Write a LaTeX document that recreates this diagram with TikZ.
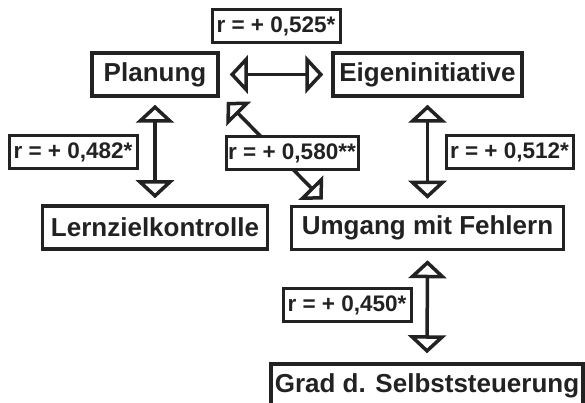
\documentclass[tikz,border=0pt]{standalone}
\usepackage{fontspec}
\setmainfont{Liberation Sans}
\usetikzlibrary{arrows.meta}
\definecolor{ink}{HTML}{222222}

\begin{document}
\begin{tikzpicture}[x=1pt, y=-1pt, >={Triangle[open, length=18pt, width=38pt]},
    var/.style={draw=ink, text=ink, line width=3.5pt, fill=white, inner sep=0pt,
      minimum height=43pt, font=\fontsize{26}{30}\selectfont\bfseries},
    coef/.style={draw=ink, text=ink, line width=3pt, fill=white, inner sep=0pt,
      minimum height=33pt, font=\fontsize{22.5}{26}\selectfont\bfseries},
    corr/.style={<->, draw=ink, line width=3.5pt}]

  \useasboundingbox (0,0) rectangle (585,403);

  %%%%%%%%%%%%%%%%%%%%%%%%%%%%%%%%%%%%%%%%%%%%%%%%%
  % Variables
  \node[var, minimum width=126pt] (plan)   at (155,74.5)  {Planung};
  \node[var, minimum width=189pt] (eigen)  at (427.5,74.5) {Eigeninitiative};
  \node[var, minimum width=225pt] (lern)   at (155,227.5) {Lernzielkontrolle};
  \node[var, minimum width=272pt] (umgang) at (427.5,228) {Umgang mit Fehlern};
  \node[var, minimum width=312pt] (grad)   at (427,385.5) {Grad d. Selbststeuerung};

  %%%%%%%%%%%%%%%%%%%%%%%%%%%%%%%%%%%%%%%%%%%%%%%%%
  % Correlations
  \draw[corr] ([xshift=10pt]plan.east) -- ([xshift=-8pt]eigen.west);
  \draw[corr] ([yshift=-7pt]plan.south) -- ([yshift=6pt]lern.north);
  \draw[corr] ([yshift=-7pt]eigen.south) -- ([yshift=6pt]umgang.north);
  \draw[corr] ([yshift=-9pt]umgang.south) -- ([yshift=9pt]grad.north);
  \draw[corr, >={Triangle[open, length=17pt, width=34pt]}]
      ([shift={(7pt,-4pt)}]plan.south east) -- ([shift={(33pt,5pt)}]umgang.north west);

  % Coefficients
  \node[coef, minimum width=128pt] (r525) at (276,26.5)  {r = + 0,525*};
  \node[coef, minimum width=128pt] (r482) at (73,152)    {r = + 0,482*};
  \node[coef, minimum width=132pt] (r580) at (292,153.5) {r = + 0,580**};
  \node[coef, minimum width=127pt] (r512) at (509.5,152.5) {r = + 0,512*};
  \node[coef, minimum width=128pt] (r450) at (347,305)   {r = + 0,450*};

\end{tikzpicture}
\end{document}
